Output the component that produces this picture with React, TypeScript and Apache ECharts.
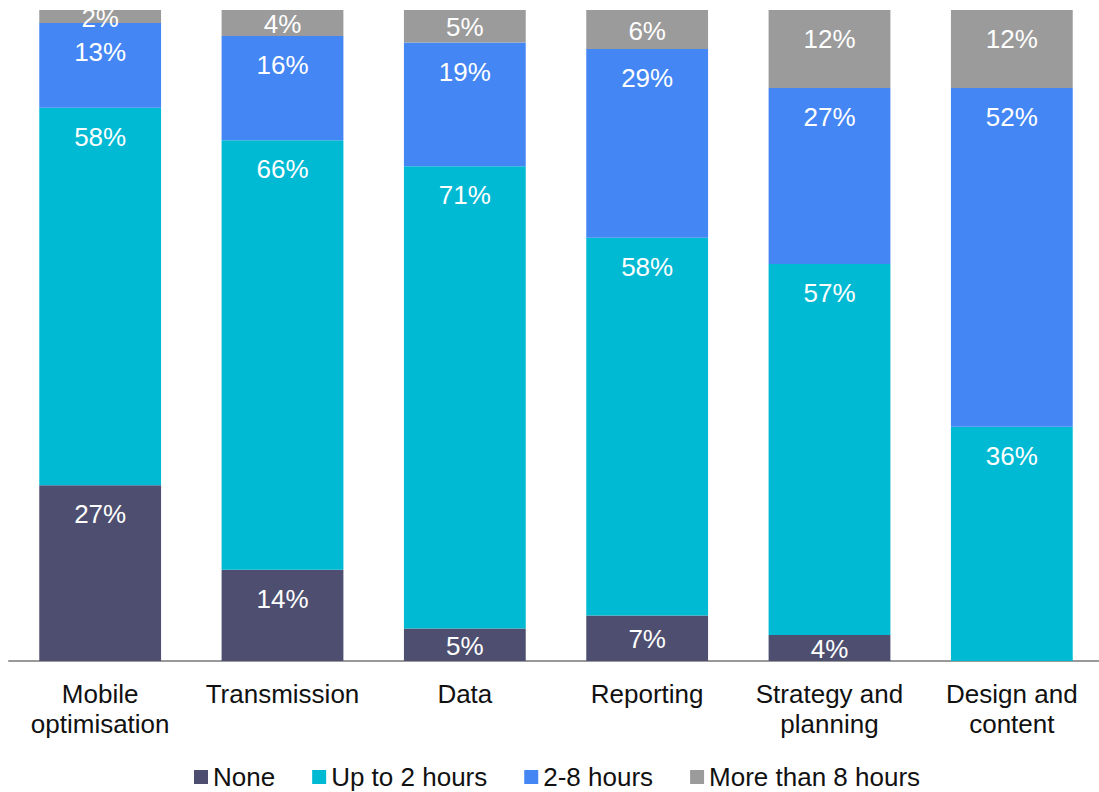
import React, { useEffect, useRef } from "react";
import * as echarts from "echarts";

const categories = [
  "Mobile\noptimisation",
  "Transmission",
  "Data",
  "Reporting",
  "Strategy and\nplanning",
  "Design and\ncontent",
];
const seriesNames = ["None", "Up to 2 hours", "2-8 hours", "More than 8 hours"];
const noneValues = [27, 14, 5, 7, 4, 0];
const upTo2Values = [58, 66, 71, 58, 57, 36];
const twoTo8Values = [13, 16, 19, 29, 27, 52];
const moreThan8Values = [2, 4, 5, 6, 12, 12];
const colors = ["#4e4f70", "#00bad4", "#4386f4", "#9b9b9b"];

const FONT = "Liberation Sans, Arial, sans-serif";

function makeData(values: number[]) {
  return values.map((v) => ({
    value: v,
    label:
      v < 10
        ? { position: "inside", offset: [0, 1] }
        : { position: "insideTop", distance: 16 },
  }));
}

export default function App() {
  const ref = useRef<HTMLDivElement>(null);
  useEffect(() => {
    document.body.style.margin = "0";
    const chart = echarts.init(ref.current!, undefined, { renderer: "svg" });
    const all = [noneValues, upTo2Values, twoTo8Values, moreThan8Values];
    chart.setOption({
      animation: false,
      grid: { left: 9, right: 0, top: 10, bottom: 131, containLabel: false },
      legend: {
        top: 763,
        left: 194,
        padding: 0,
        itemWidth: 14,
        itemHeight: 14,
        itemGap: 37,
        icon: "rect",
        textStyle: { fontFamily: FONT, fontSize: 26, color: "#111", lineHeight: 28 },
        data: seriesNames,
      },
      xAxis: {
        type: "category",
        data: categories,
        axisLine: { lineStyle: { color: "#999", width: 2 } },
        axisTick: { show: false },
        axisLabel: {
          interval: 0,
          margin: 18,
          fontFamily: FONT,
          fontSize: 26,
          lineHeight: 30,
          color: "#111",
        },
      },
      yAxis: {
        type: "value",
        min: 0,
        max: 100,
        show: false,
        splitLine: { show: false },
      },
      series: all.map((vals, i) => ({
        name: seriesNames[i],
        type: "bar",
        stack: "total",
        barWidth: "66.8%",
        itemStyle: { color: colors[i] },
        label: {
          show: true,
          color: "#fff",
          fontFamily: FONT,
          fontSize: 26,
          formatter: (p: any) => (p.value > 0 ? p.value + "%" : ""),
        },
        data: makeData(vals),
      })),
    });
    return () => chart.dispose();
  }, []);
  return (
    <div
      style={{
        position: "absolute",
        left: 0,
        top: 0,
        width: 1099,
        height: 792,
        overflow: "hidden",
      }}
    >
      <div ref={ref} style={{ width: 1103, height: 792 }} />
    </div>
  );
}
